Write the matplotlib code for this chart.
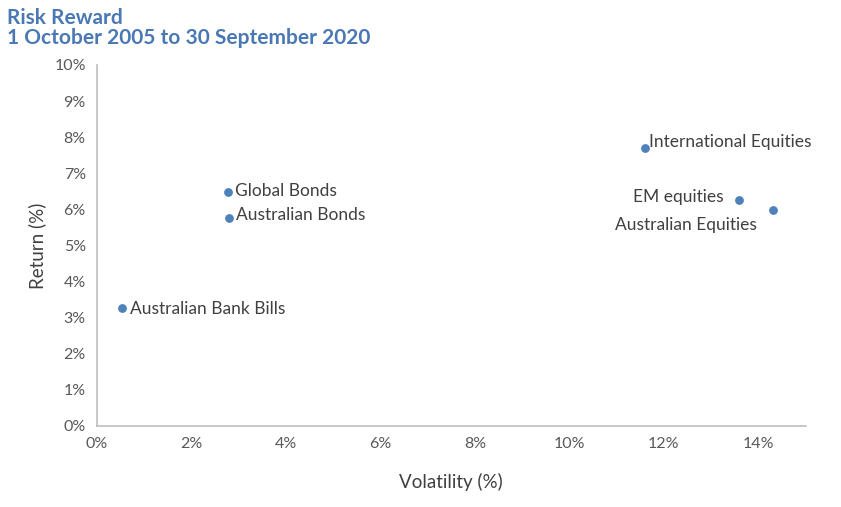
import matplotlib.pyplot as plt
from matplotlib.ticker import FuncFormatter

_BLUE = "#4f81bd"
_TITLE = "#4a78b4"
_INK = "#404040"
_TICK = "#595959"
_SPINE = "#bfbfbf"

names = ["Australian Bank Bills", "Global Bonds", "Australian Bonds",
         "International Equities", "EM equities", "Australian Equities"]
volatility = [0.53, 2.77, 2.79, 11.6, 13.58, 14.3]
returns = [3.27, 6.48, 5.76, 7.70, 6.26, 5.98]

# label offsets in points and alignment
offsets = {
    "Australian Bank Bills": ((6, -1), "left", "center"),
    "Global Bonds": ((5, 1), "left", "center"),
    "Australian Bonds": ((5, 2), "left", "center"),
    "International Equities": ((3, 4), "left", "center"),
    "EM equities": ((-11, 2), "right", "center"),
    "Australian Equities": ((-11, -11), "right", "center"),
}

plt.rcParams.update({"font.family": ["Lato", "DejaVu Sans"]})
fig = plt.figure(figsize=(8.41, 5.07), dpi=100)
ax = fig.add_axes([0.1153, 0.1598, 0.8427, 0.712])

ax.scatter(volatility, returns, s=40, color=_BLUE, zorder=3, linewidths=0)
for n, x, y in zip(names, volatility, returns):
    (dx, dy), ha, va = offsets[n]
    ax.annotate(n, (x, y), textcoords="offset points", xytext=(dx, dy),
                ha=ha, va=va, fontsize=12.5, color=_INK)

ax.set_xlim(0, 15)
ax.set_ylim(0, 10)
ax.set_xticks(range(0, 15, 2))
ax.set_yticks(range(0, 11))
fmt = FuncFormatter(lambda v, _: f"{v:.0f}%")
ax.xaxis.set_major_formatter(fmt)
ax.yaxis.set_major_formatter(fmt)
ax.tick_params(length=0, labelsize=11.5, colors=_TICK, pad=8)
for side in ("top", "right"):
    ax.spines[side].set_visible(False)
for side in ("left", "bottom"):
    ax.spines[side].set_color(_SPINE)
    ax.spines[side].set_linewidth(1.2)

ax.set_xlabel("Volatility (%)", fontsize=13.5, color=_INK, labelpad=16)
ax.set_ylabel("Return (%)", fontsize=13.5, color=_INK, labelpad=6)

fig.text(0.008, 0.965, "Risk Reward", fontsize=15, fontweight="bold", color=_TITLE, va="center")
fig.text(0.008, 0.925, "1 October 2005 to 30 September 2020", fontsize=15,
         fontweight="bold", color=_TITLE, va="center")

fig.savefig("out.png", facecolor="white")
